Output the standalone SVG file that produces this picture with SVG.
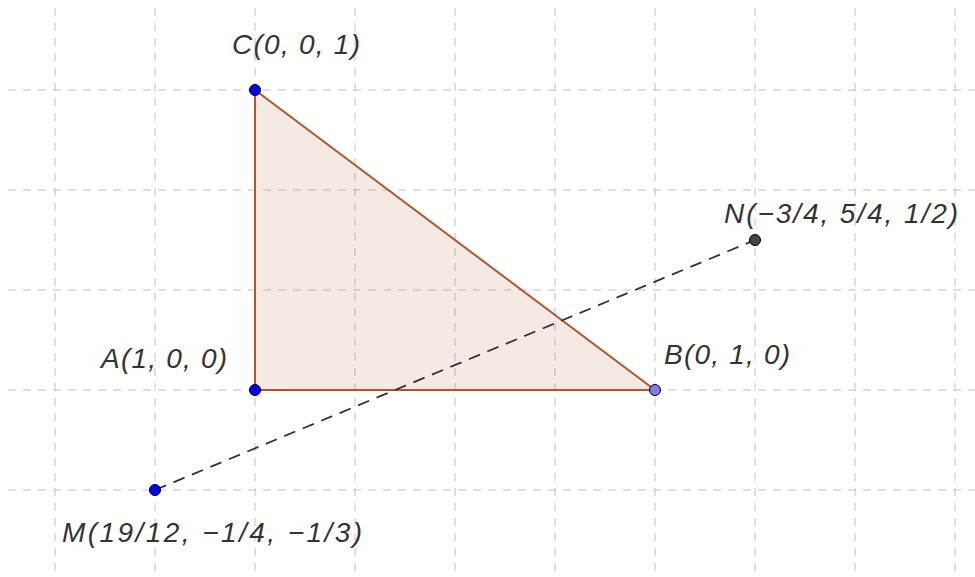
<svg xmlns="http://www.w3.org/2000/svg" width="975" height="577" viewBox="0 0 975 577">
<style>
.grid{stroke:#c0c0c0;stroke-width:1;stroke-dasharray:8,7;fill:none}
.lbl{font-family:"Liberation Sans",Arial,sans-serif;font-style:italic;font-size:28px;fill:#333}
.pt{stroke:#000;stroke-width:1}
</style>
<rect width="975" height="577" fill="#fff"/>
<g id="grid">
<path class="grid" d="M55 8V577M155 8V577M255 8V577M355 8V577M455 8V577M555 8V577M655 8V577M755 8V577M855 8V577M955 8V577"/>
<path class="grid" d="M8 90H975M8 190H975M8 290H975M8 390H975M8 490H975"/>
</g>
<g id="triangle">
<polygon points="255,90 655,390 255,390" fill="#b5532a" fill-opacity="0.13" stroke="#b5532a" stroke-width="2" stroke-linejoin="round"/>
</g>
<g id="connectors">
<line x1="155" y1="490" x2="755" y2="240" stroke="#333" stroke-width="1.8" stroke-dasharray="12,8"/>
</g>
<g id="C"><circle class="pt" cx="255" cy="90" r="5.5" fill="#0000ff"/><text class="lbl" x="232" y="54" textLength="128" lengthAdjust="spacing">C(0, 0, 1)</text></g>
<g id="A"><circle class="pt" cx="255" cy="390" r="5.5" fill="#0000ff"/><text class="lbl" x="101" y="368" textLength="126" lengthAdjust="spacing">A(1, 0, 0)</text></g>
<g id="B"><circle class="pt" cx="655" cy="390" r="5.5" fill="#7b7bff"/><text class="lbl" x="664" y="364" textLength="126" lengthAdjust="spacing">B(0, 1, 0)</text></g>
<g id="M"><circle class="pt" cx="155" cy="490" r="5.5" fill="#0000ff"/><text class="lbl" x="62" y="542" textLength="300" lengthAdjust="spacing">M(19/12, −1/4, −1/3)</text></g>
<g id="N"><circle class="pt" cx="755" cy="240" r="5.5" fill="#444"/><text class="lbl" x="724" y="223" textLength="234" lengthAdjust="spacing">N(−3/4, 5/4, 1/2)</text></g>
</svg>
